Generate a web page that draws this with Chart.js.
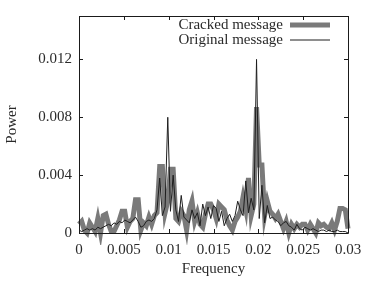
<!DOCTYPE html>
<html>
<head>
<meta charset="utf-8">
<script src="https://cdn.jsdelivr.net/npm/chart.js@4/dist/chart.umd.min.js"></script>
<style>
html,body{margin:0;padding:0;background:#fff;}
#wrap{width:374px;height:281px;position:relative;}
</style>
</head>
<body>
<div id="wrap"><canvas id="c" width="374" height="281"></canvas></div>
<script>
const frequency = [0,0.0003,0.0006,0.0009,0.0012,0.0015,0.0018,0.0021,0.0024,0.0027,
0.003,0.0033,0.0036,0.0039,0.0042,0.0045,0.0048,0.0051,0.0054,0.0057,
0.006,0.0063,0.0066,0.0069,0.0072,0.0075,0.0078,0.0081,0.0084,0.0087,
0.009,0.0093,0.0096,0.0099,0.0102,0.0105,0.0108,0.0111,0.0114,0.0117,
0.012,0.0123,0.0126,0.0129,0.0132,0.0135,0.0138,0.0141,0.0144,0.0147,
0.015,0.0153,0.0156,0.0159,0.0162,0.0165,0.0168,0.0171,0.0174,0.0177,
0.018,0.0183,0.0186,0.0189,0.0192,0.0195,0.0198,0.0201,0.0204,0.0207,
0.021,0.0213,0.0216,0.0219,0.0222,0.0225,0.0228,0.0231,0.0234,0.0237,
0.024,0.0243,0.0246,0.0249,0.0252,0.0255,0.0258,0.0261,0.0264,0.0267,
0.027,0.0273,0.0276,0.0279,0.0282,0.0285,0.0288,0.0291,0.0294,0.0297,0.03];

const crackedPower = [0.0006,0.0008,0.0002,0.0000,0.0007,0.0004,0.0001,0.0010,0.0000,0.0012,
0.0013,0.0006,0.0001,0.0001,0.0005,0.0009,0.0015,0.0015,0.0004,0.0008,
0.0010,0.0023,0.0023,0.0002,0.0007,0.0005,0.0011,0.0006,0.0012,0.0014,
0.0046,0.0046,0.0014,0.0022,0.0044,0.0044,0.0010,0.0008,0.0015,0.0012,
0.0002,0.0016,0.0022,0.0008,0.0014,0.0006,0.0004,0.0013,0.0020,0.0020,
0.0016,0.0010,0.0020,0.0018,0.0016,0.0009,0.0005,0.0002,0.0008,0.0011,
0.0015,0.0025,0.0016,0.0038,0.0012,0.0020,0.0087,0.0047,0.0047,0.0012,
0.0022,0.0015,0.0013,0.0010,0.0013,0.0008,0.0003,0.0008,0.0000,0.0006,
0.0003,0.0006,0.0004,0.0006,0.0006,0.0002,0.0006,0.0003,0.0000,0.0007,
0.0005,0.0006,0.0004,0.0003,0.0007,0.0002,0.0008,0.0017,0.0017,0.0016,0.0003];

const originalPower = [0.0002,0.0001,0.0002,0.0003,0.0002,0.0003,0.0002,0.0004,0.0003,0.0004,
0.0005,0.0006,0.0005,0.0007,0.0006,0.0008,0.0007,0.0009,0.0008,0.0007,
0.0009,0.0011,0.0008,0.0004,0.0005,0.0008,0.0009,0.0008,0.0010,0.0016,
0.0038,0.0012,0.0018,0.0080,0.0015,0.0040,0.0016,0.0008,0.0026,0.0011,
0.0009,0.0007,0.0016,0.0010,0.0014,0.0005,0.0020,0.0012,0.0018,0.0010,
0.0019,0.0017,0.0008,0.0015,0.0005,0.0010,0.0013,0.0008,0.0012,0.0022,
0.0016,0.0012,0.0036,0.0014,0.0024,0.0016,0.0120,0.0010,0.0033,0.0007,
0.0019,0.0010,0.0011,0.0009,0.0008,0.0005,0.0007,0.0008,0.0005,0.0004,
0.0002,0.0006,0.0003,0.0002,0.0004,0.0003,0.0002,0.0003,0.0002,0.0001,
0.0002,0.0002,0.0001,0.0002,0.0001,0.0001,0.0002,0.0001,0.0001,0.0001,0.0000];

const seriesLabels = ['Cracked message','Original message'];
const xTickValues = [0,0.005,0.01,0.015,0.02,0.025,0.03];
const xTickLabels = ['0','0.005','0.01','0.015','0.02','0.025','0.03'];
const yTickValues = [0,0.004,0.008,0.012];
const yTickLabels = ['0','0.004','0.008','0.012'];

const FONT = "'Liberation Serif', 'Times New Roman', serif";
const TEXT = '#2a2a2a';

function pts(ys){ return frequency.map((f,i)=>({x:f,y:ys[i]})); }

const framePlugin = {
  id:'frame',
  afterDatasetsDraw(chart){
    const {ctx, chartArea:a, scales:{x,y}} = chart;
    ctx.save();
    ctx.strokeStyle = '#1a1a1a';
    ctx.lineWidth = 1;
    ctx.beginPath();
    ctx.rect(Math.round(a.left)+0.5, Math.round(a.top)+0.5, Math.round(a.right-a.left), Math.round(a.bottom-a.top));
    ctx.stroke();
    ctx.beginPath();
    const L=4;
    xTickValues.forEach(v=>{
      const px = Math.round(x.getPixelForValue(v))+0.5;
      ctx.moveTo(px,a.bottom); ctx.lineTo(px,a.bottom-L);
      ctx.moveTo(px,a.top); ctx.lineTo(px,a.top+L);
    });
    yTickValues.forEach(v=>{
      const py = Math.round(y.getPixelForValue(v))+0.5;
      ctx.moveTo(a.left,py); ctx.lineTo(a.left+L,py);
      ctx.moveTo(a.right,py); ctx.lineTo(a.right-L,py);
    });
    ctx.stroke();
    ctx.restore();
  }
};

const legendPlugin = {
  id:'insideLegend',
  afterDraw(chart){
    const {ctx} = chart;
    const ds = chart.data.datasets;
    const rows = [ds[0], ds[1]];
    const textRight = 283, sx0 = 290, sx1 = 330;
    const ys = [25, 40];
    ctx.save();
    ctx.font = "15px " + FONT;
    ctx.fillStyle = TEXT;
    ctx.textAlign = 'right';
    ctx.textBaseline = 'middle';
    rows.forEach((d,i)=>{
      ctx.fillText(d.label, textRight, ys[i]);
      ctx.beginPath();
      ctx.strokeStyle = d.borderColor;
      ctx.lineWidth = d.borderWidth;
      ctx.moveTo(sx0, ys[i]); ctx.lineTo(sx1, ys[i]);
      ctx.stroke();
    });
    ctx.restore();
  }
};

new Chart(document.getElementById('c'), {
  type:'line',
  data:{
    datasets:[
      {label:seriesLabels[0], data:pts(crackedPower), borderColor:'#7a7a7a', borderWidth:5,
       pointRadius:0, tension:0, borderJoinStyle:'miter', borderCapStyle:'butt', order:2, clip:12},
      {label:seriesLabels[1], data:pts(originalPower), borderColor:'#1e1e1e', borderWidth:1,
       pointRadius:0, tension:0, order:1, clip:10}
    ]
  },
  options:{
    responsive:false,
    animation:false,
    devicePixelRatio:1,
    layout:{padding:{left:0,right:26,top:14,bottom:0}},
    plugins:{legend:{display:false}, tooltip:{enabled:false}},
    scales:{
      x:{
        type:'linear', min:0, max:0.03,
        afterBuildTicks(s){ s.ticks = xTickValues.map(v=>({value:v})); },
        afterFit(s){ s.height = 48; },
        grid:{display:false, drawTicks:false},
        border:{display:false},
        ticks:{padding:8, color:TEXT, font:{family:FONT,size:15}, maxRotation:0, autoSkip:false,
          callback:(v,i)=>xTickLabels[i]},
        title:{display:true, text:'Frequency', color:TEXT, font:{family:FONT,size:15}, padding:{top:0,bottom:3}}
      },
      y:{
        type:'linear', min:0, max:0.015,
        afterBuildTicks(s){ s.ticks = yTickValues.map(v=>({value:v})); },
        afterFit(s){ s.width = 79; },
        grid:{display:false, drawTicks:false},
        border:{display:false},
        ticks:{padding:7, color:TEXT, font:{family:FONT,size:15}, autoSkip:false,
          callback:(v,i)=>yTickLabels[i]},
        title:{display:true, text:'Power', color:TEXT, font:{family:FONT,size:15}, padding:{top:3,bottom:0}}
      }
    }
  },
  plugins:[framePlugin, legendPlugin]
});
</script>
</body>
</html>
